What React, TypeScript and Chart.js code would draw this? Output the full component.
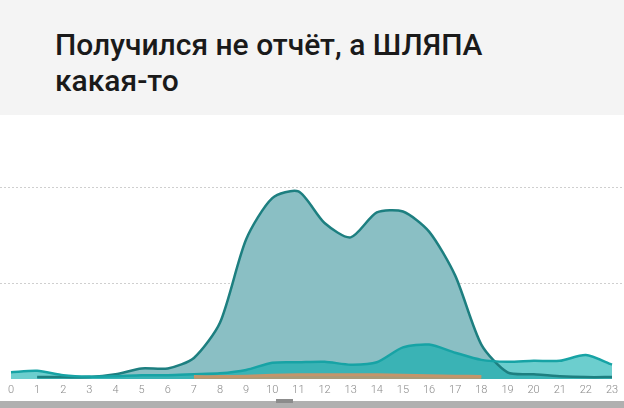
import React, { useEffect, useRef } from "react";
import { Chart, registerables } from "chart.js";

Chart.register(...registerables);

const title1 = "Получился не отчёт, а ШЛЯПА";
const title2 = "какая-то";

const hours = ["0","1","2","3","4","5","6","7","8","9","10","11","12","13","14","15","16","17","18","19","20","21","22","23"];

const bigSeries = [null, 2, 2, 2, 5, 11, 11, 22, 59, 146, 189, 196, 163, 148, 174, 175, 154, 108, 36, 7, 5, 3, 2, 2];
const midSeries = [7, 8.5, 4, 2.5, 3, 4, 4, 5, 6, 9.5, 17, 17.5, 18, 15, 17.5, 33, 36, 27.5, 20, 18, 19, 19, 25, 15];
const orangeSeries = [null, null, null, null, null, null, null, 2.5, 2.5, 3, 4, 4.5, 4.5, 4.5, 4.5, 4, 3.5, 3, 2.5, null, null, null, null, null];

const yTicks = [100, 200];

export default function App() {
  const ref = useRef<HTMLCanvasElement | null>(null);

  useEffect(() => {
    document.body.style.margin = "0";
    const canvas = ref.current;
    if (!canvas) return;
    const toXY = (arr: (number | null)[]) => arr.map((v, i) => ({ x: Number(hours[i]), y: v }));
    const chart = new Chart(canvas, {
      type: "line",
      data: {
        datasets: [
          {
            label: "orange",
            data: toXY(orangeSeries) as any,
            borderColor: "#c4956a",
            backgroundColor: "rgba(196,149,106,0.8)",
            borderWidth: 3,
            fill: "origin",
            pointRadius: 0,
            tension: 0.2,
          },
          {
            label: "mid",
            data: toXY(midSeries) as any,
            borderColor: "#17a3a5",
            backgroundColor: "rgba(0,170,170,0.576)",
            borderWidth: 2.5,
            fill: "origin",
            pointRadius: 0,
            tension: 0.25,
          },
          {
            label: "big",
            data: toXY(bigSeries) as any,
            borderColor: "#1d7f80",
            backgroundColor: "rgb(138,191,196)",
            borderWidth: 2.5,
            fill: "origin",
            pointRadius: 0,
            tension: 0.25,
          },
        ],
      },
      options: {
        animation: false,
        responsive: false,
        maintainAspectRatio: false,
        layout: { padding: { top: 24.75, bottom: 5.8, left: 0, right: 0 } },
        plugins: {
          legend: { display: false },
          tooltip: { enabled: false },
          filler: { drawTime: "beforeDatasetsDraw" } as any,
        },
        scales: {
          x: {
            type: "linear",
            min: -11 / 26.13,
            max: 23 + 12 / 26.13,
            afterFit: (scale: any) => {
              scale.paddingLeft = 0;
              scale.paddingRight = 0;
            },
            grid: { display: false, drawTicks: false, tickLength: 0 },
            border: { display: false },
            ticks: {
              stepSize: 1,
              includeBounds: false,
              autoSkip: false,
              maxRotation: 0,
              padding: 5,
              color: "#8a8a8a",
              font: { family: "Roboto", size: 11, weight: 300 as any },
              callback: (v: any) => (Number.isInteger(v) && v >= 0 && v < hours.length ? hours[v] : ""),
            },
          },
          y: {
            min: 0,
            max: 250,
            afterBuildTicks: (scale: any) => {
              scale.ticks = yTicks.map((v) => ({ value: v }));
            },
            grid: {
              color: "#cfcfcf",
              lineWidth: 1,
              drawTicks: false,
              tickLength: 0,
            },
            border: { display: false, dash: [2, 2] },
            ticks: { display: false },
          },
        },
      },
    });
    return () => chart.destroy();
  }, []);

  return (
    <div style={{ position: "relative", width: 624, height: 408, background: "#ffffff", overflow: "hidden" }}>
      <div
        style={{
          position: "absolute",
          left: 0,
          top: 0,
          width: 624,
          height: 115,
          background: "#f4f4f4",
        }}
      >
        <div
          style={{
            position: "absolute",
            left: 55,
            top: 27,
            fontFamily: "Roboto, sans-serif",
            fontSize: 30,
            fontWeight: 500,
            lineHeight: "36px",
            color: "#1a1a1a",
            whiteSpace: "nowrap",
          }}
        >
          <div>{title1}</div>
          <div>{title2}</div>
        </div>
      </div>
      <canvas
        ref={ref}
        width={624}
        height={293}
        style={{ position: "absolute", left: 0, top: 115, width: 624, height: 293 }}
      />
      <div style={{ position: "absolute", left: 0, top: 401, width: 624, height: 7, background: "#b0b0b0" }} />
      <div style={{ position: "absolute", left: 276, top: 399, width: 17, height: 4, background: "#8c8c8c" }} />
    </div>
  );
}
